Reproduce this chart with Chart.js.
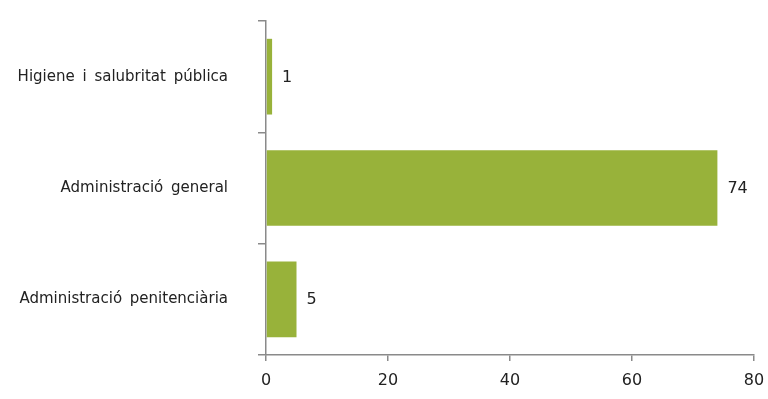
<!DOCTYPE html>
<html>
<head>
<meta charset="utf-8">
<script src="https://cdn.jsdelivr.net/npm/chart.js@4/dist/chart.umd.min.js"></script>
<style>
  html, body { margin: 0; padding: 0; background: #ffffff; }
  #wrap { width: 768px; height: 399px; }
</style>
</head>
<body>
<div id="wrap"><canvas id="chart" width="768" height="399"></canvas></div>
<script>
const categories = ['Higiene i salubritat pública', 'Administració general', 'Administració penitenciària'];
const values = [1, 74, 5];
const xTicks = [0, 20, 40, 60, 80];

const barColor = '#98b23a';
const axisColor = '#8a8a8a';
const textColor = '#222222';

// Wider gaps between words in all canvas text
const wordGap = {
  id: 'wordGap',
  beforeDraw(chart) { chart.ctx.wordSpacing = '3px'; }
};

// Writes each bar's value just past its end
const valueLabels = {
  id: 'valueLabels',
  afterDatasetsDraw(chart) {
    const ctx = chart.ctx;
    const meta = chart.getDatasetMeta(0);
    ctx.save();
    ctx.font = '16px "DejaVu Sans"';
    ctx.fillStyle = textColor;
    ctx.textAlign = 'left';
    ctx.textBaseline = 'middle';
    meta.data.forEach((bar, i) => {
      ctx.fillText(String(values[i]), bar.x + 10, bar.y + 1);
    });
    ctx.restore();
  }
};

new Chart(document.getElementById('chart'), {
  type: 'bar',
  data: {
    labels: categories,
    datasets: [{
      data: values,
      backgroundColor: barColor,
      borderWidth: 0,
      categoryPercentage: 1.0,
      barPercentage: 0.68
    }]
  },
  options: {
    indexAxis: 'y',
    responsive: false,
    animation: false,
    layout: { padding: { top: 21, right: 14, bottom: 0, left: 0 } },
    plugins: { legend: { display: false }, tooltip: { enabled: false } },
    scales: {
      x: {
        min: 0,
        max: 80,
        afterBuildTicks(scale) { scale.ticks = xTicks.map(v => ({ value: v })); },
        afterFit(scale) {
          scale.height = 44;
          scale.paddingLeft = 0;
          scale.paddingRight = 0;
        },
        border: { color: axisColor, width: 1.5 },
        grid: { drawOnChartArea: false, drawTicks: true, tickLength: 6, color: axisColor, lineWidth: 1.5 },
        ticks: { color: textColor, font: { family: 'DejaVu Sans', size: 16 }, padding: 10, maxRotation: 0 }
      },
      y: {
        afterFit(scale) {
          scale.width = 266;
          scale.paddingTop = 0;
          scale.paddingBottom = 0;
        },
        border: { color: axisColor, width: 1.5 },
        grid: { offset: true, drawOnChartArea: false, drawTicks: true, tickLength: 8, color: axisColor, lineWidth: 1.5 },
        ticks: { color: textColor, font: { family: 'DejaVu Sans', size: 15 }, padding: 30 }
      }
    }
  },
  plugins: [wordGap, valueLabels]
});
</script>
</body>
</html>
